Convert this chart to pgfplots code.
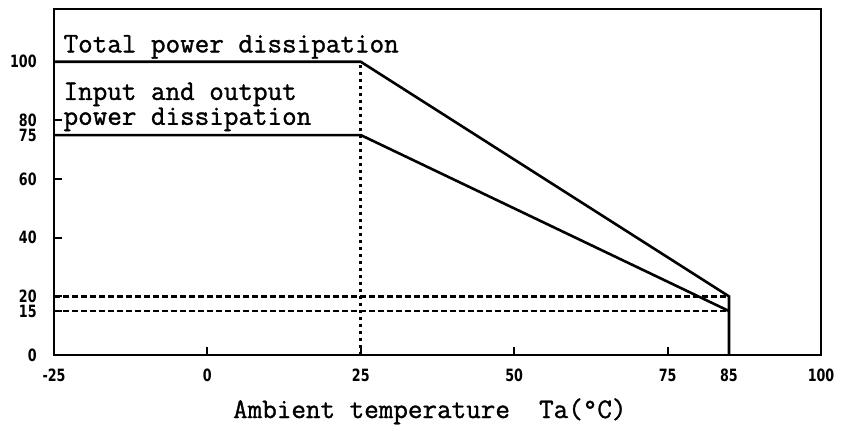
\documentclass[border=0pt]{standalone}
\usepackage{fontspec}
\usepackage{pgfplots}
\pgfplotsset{compat=1.18}
\newfontfamily\tickfont[FakeStretch=0.75]{DejaVu Sans}
\newfontfamily\mono[FakeBold=1.2]{Latin Modern Mono}
\begin{document}
\begin{tikzpicture}
\begin{axis}[
  scale only axis,
  width=383.5bp, height=173bp,
  xmin=-25, xmax=100, ymin=0, ymax=118,
  axis line style={line width=1.2bp},
  xtick={-25,0,25,50,75,85,100},
  xticklabels={-25,0,25,50,75,85,100},
  ytick={0,15,20,40,60,75,80,100},
  yticklabels={0,15,20,40,60,75,80,100},
  tick align=inside, tick pos=left,
  major tick length=4bp,
  tick style={black, line width=1bp},
  xticklabel style={font=\tickfont\bfseries\fontsize{8.5}{9}\selectfont, inner sep=0pt, anchor=base, yshift=-13bp},
  yticklabel style={font=\tickfont\bfseries\fontsize{8.5}{9}\selectfont, inner sep=0pt, anchor=east, xshift=-8.5bp},
  xlabel={Ambient temperature\ \ Ta(°C)},
  xlabel style={font=\mono\fontsize{14.2}{16}\selectfont, at={(axis description cs:0.49,0)}, anchor=base, inner sep=0pt, yshift=-31.5bp},
  clip=false,
]
\addplot[black, line width=1.3bp] coordinates {(-25,100) (25,100) (85,20) (85,0)};
\addplot[black, line width=1.3bp] coordinates {(-25,75) (25,75) (85,15)};
\addplot[black, line width=1.2bp, dash pattern=on 3bp off 1.5bp] coordinates {(-25,20) (85,20)};
\addplot[black, line width=1.2bp, dash pattern=on 3bp off 1.5bp] coordinates {(-25,15) (85,15)};
\addplot[black, line width=1.5bp, dash pattern=on 1.3bp off 2.2bp] coordinates {(25,0) (25,100)};
\node[anchor=base west, inner sep=0pt, font=\mono\fontsize{14.2}{16}\selectfont] at (axis cs:-23.5,103.2) {Total power dissipation};
\node[anchor=base west, inner sep=0pt, align=left, font=\mono\fontsize{14.2}{12.5}\selectfont] at (axis cs:-23.5,78.5) {Input and output\\power dissipation};
\end{axis}
\path ([xshift=-27bp,yshift=-38bp]current axis.south west) rectangle ([xshift=10bp,yshift=4.5bp]current axis.north east);
\end{tikzpicture}
\end{document}
